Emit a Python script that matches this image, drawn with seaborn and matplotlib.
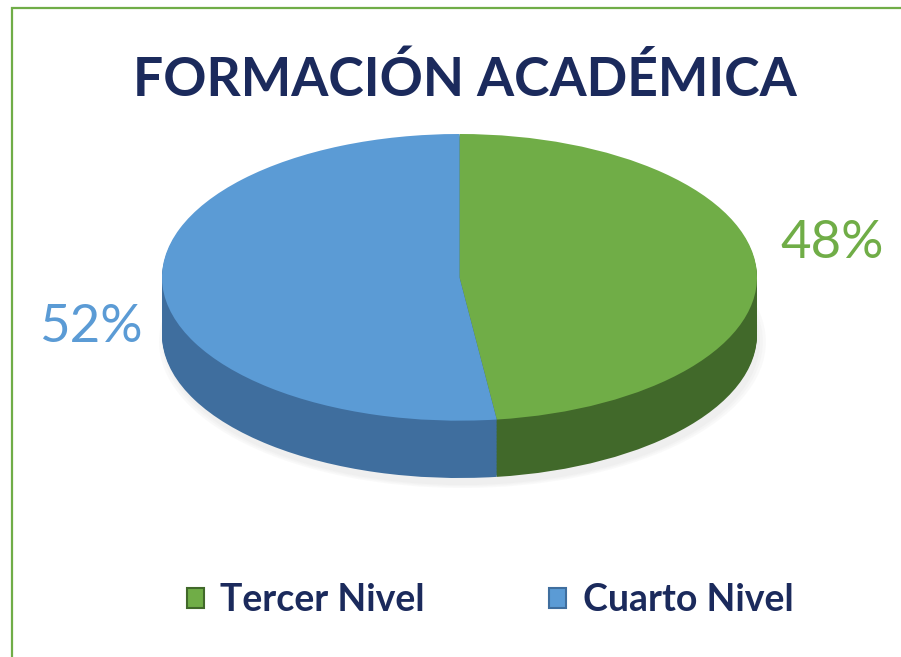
import matplotlib
matplotlib.use("Agg")
import matplotlib.pyplot as plt
import matplotlib.patches as mpatches
import seaborn as sns

# data
categorias = ["Tercer Nivel", "Cuarto Nivel"]
porcentajes = [48, 52]
etiquetas = ["48%", "52%"]

color_top = ["#70AD47", "#5B9BD5"]
color_lado = ["#41692A", "#3F6E9E"]
color_titulo = "#1B2A5C"

sns.set_theme(style="white")
plt.rcParams["font.family"] = ["Lato", "DejaVu Sans"]

W, H = 901, 657
fig = plt.figure(figsize=(W / 100, H / 100), dpi=100)
fig.patch.set_facecolor("white")

# green border (cut at right/bottom like the reference)
fig.add_artist(mpatches.Rectangle((12 / W, -0.05), 1.0, 1 - 8 / H + 0.05,
                                  transform=fig.transFigure, fill=False,
                                  edgecolor="#70AD47", linewidth=1.6))

# pie axes: ellipse top, with depth below
profundidad = 0.40
left_px, right_px = 162, 757
bottom_px, top_px = 179, 523
ax = fig.add_axes([left_px / W, bottom_px / H, (right_px - left_px) / W, (top_px - bottom_px) / H])

# soft shadow
for i in range(3):
    ax.pie([1], colors=["#9a9a9a"], radius=1.0 + 0.01 * i, center=(0.01, -profundidad - 0.05),
           wedgeprops=dict(linewidth=0, alpha=0.05), frame=True)

# side of the pie: stacked darker layers
n_capas = 40
for k in range(n_capas, 0, -1):
    dy = -profundidad * k / n_capas
    ax.pie(porcentajes, colors=color_lado, startangle=90, counterclock=False,
           center=(0, dy), wedgeprops=dict(linewidth=0), frame=True)

# top face
wedges, _ = ax.pie(porcentajes, colors=color_top, startangle=90, counterclock=False,
                   center=(0, 0), wedgeprops=dict(linewidth=0), frame=True)
ax.set_aspect("auto")
ax.set_xlim(-1, 1)
ax.set_ylim(-1 - profundidad, 1)
ax.axis("off")

# title
fig.text(465 / W, 1 - 80 / H, "FORMACIÓN ACADÉMICA", ha="center", va="center",
         fontsize=38.5, fontweight="bold", color=color_titulo)

# percentage labels
fig.text(832 / W, 1 - 244 / H, etiquetas[0], ha="center", va="center",
         fontsize=38, color=color_top[0])
fig.text(91 / W, 1 - 328 / H, etiquetas[1], ha="center", va="center",
         fontsize=38, color=color_top[1])

# legend
handles = [mpatches.Patch(facecolor=color_top[0], edgecolor=color_lado[0], linewidth=1.5),
           mpatches.Patch(facecolor=color_top[1], edgecolor=color_lado[1], linewidth=1.5)]
leg = fig.legend(handles, categorias, loc="center", bbox_to_anchor=(490 / W, 1 - 600 / H),
                 ncol=2, frameon=False, fontsize=27, handlelength=0.45, handleheight=0.45,
                 handletextpad=0.45, columnspacing=3.3)
for t in leg.get_texts():
    t.set_color(color_titulo)
    t.set_fontweight("bold")

fig.savefig("out.png", dpi=100)
